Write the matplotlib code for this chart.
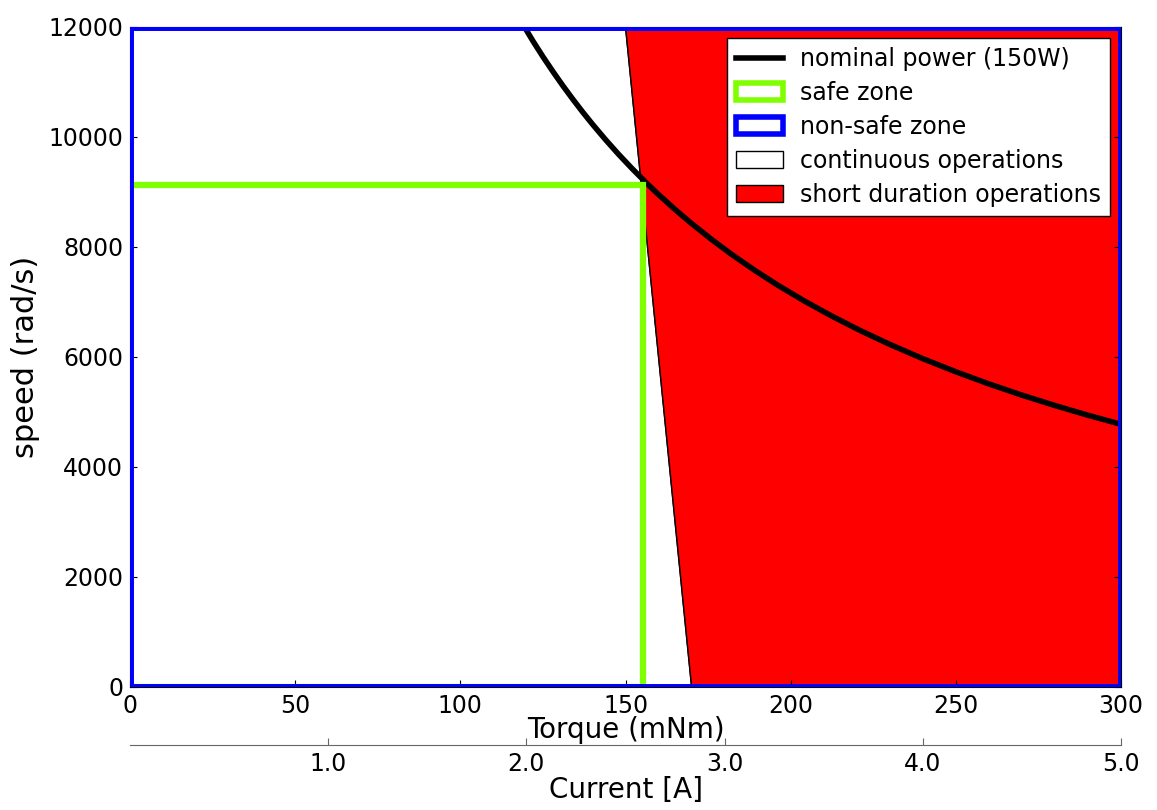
import numpy as np
import matplotlib
matplotlib.use("Agg")
import matplotlib.pyplot as plt
from matplotlib.patches import Polygon, Rectangle
from matplotlib.lines import Line2D

# nominal power curve (150W)
torque_curve = [119.4, 122, 125, 128, 131, 134, 137, 140, 144, 148, 152, 156, 160, 165, 170,
                176, 182, 189, 196, 204, 212, 221, 230, 240, 250, 260, 270, 280, 290, 300]
speed_curve = [12000, 11741, 11459, 11191, 10934, 10690, 10455, 10231, 9947, 9678, 9424, 9182,
               8952, 8681, 8426, 8139, 7870, 7579, 7308, 7022, 6757, 6481, 6228, 5968, 5730,
               5509, 5305, 5116, 4939, 4775]

# limits of the operating zones
torque_max, speed_max = 300, 12000
limit_torque_top, limit_torque_bottom = 150, 170   # continuous / short duration boundary
safe_torque, safe_speed = 155.3, 9130

# current axis
current_max = 5.0
current_ticks = [1.0, 2.0, 3.0, 4.0, 5.0]

plt.rcParams['font.family'] = 'DejaVu Sans'
fig = plt.figure(figsize=(11.57, 8.1), dpi=100)
ax = fig.add_axes([0.1124, 0.152, 0.8565, 0.8147])

# continuous operations (white) and short duration (red)
cont = Polygon([(0, 0), (limit_torque_bottom, 0), (limit_torque_top, speed_max), (0, speed_max)],
               closed=True, facecolor='white', edgecolor='black', lw=1, zorder=1)
short = Polygon([(limit_torque_top, speed_max), (limit_torque_bottom, 0), (torque_max, 0), (torque_max, speed_max)],
                closed=True, facecolor='red', edgecolor='black', lw=1, zorder=1)
ax.add_patch(cont)
ax.add_patch(short)

ax.plot(torque_curve, speed_curve, color='black', lw=4, zorder=3, solid_joinstyle='round')

safe = Rectangle((0, 0), safe_torque, safe_speed, facecolor='none', edgecolor='#7fff00', lw=4.5, zorder=4)
nonsafe = Rectangle((0, 0), torque_max, speed_max, facecolor='none', edgecolor='blue', lw=5, zorder=5)
ax.add_patch(safe)
ax.add_patch(nonsafe)

ax.set_xlim(0, torque_max)
ax.set_ylim(0, speed_max)
ax.set_xticks([0, 50, 100, 150, 200, 250, 300])
ax.set_yticks([0, 2000, 4000, 6000, 8000, 10000, 12000])
ax.tick_params(direction='in', top=True, right=True, labelsize=17, length=5, pad=5)
ax.set_xlabel('Torque (mNm)', fontsize=20, labelpad=-1)
ax.set_ylabel('speed (rad/s)', fontsize=22, labelpad=6)

handles = [
    Line2D([0], [0], color='black', lw=4),
    Rectangle((0, 0), 1, 1, facecolor='white', edgecolor='#7fff00', lw=4),
    Rectangle((0, 0), 1, 1, facecolor='white', edgecolor='blue', lw=4),
    Rectangle((0, 0), 1, 1, facecolor='white', edgecolor='black', lw=1),
    Rectangle((0, 0), 1, 1, facecolor='red', edgecolor='black', lw=1),
]
labels = ['nominal power (150W)', 'safe zone', 'non-safe zone',
          'continuous operations', 'short duration operations']
leg = ax.legend(handles, labels, loc='upper right', fontsize=17, fancybox=False,
                framealpha=1, edgecolor='black', borderaxespad=0.45, handlelength=2.0,
                handletextpad=0.7, labelspacing=0.42, borderpad=0.4)
leg.get_frame().set_linewidth(1)
leg.set_zorder(10)

# current axis below
ax2 = ax.twiny()
ax2.set_xlim(0, current_max)
ax2.set_xticks(current_ticks)
ax2.set_xticklabels(['%.1f' % c for c in current_ticks])
ax2.xaxis.set_ticks_position('bottom')
ax2.xaxis.set_label_position('bottom')
ax2.spines['bottom'].set_position(('outward', 42))
for s in ['top', 'left', 'right']:
    ax2.spines[s].set_visible(False)
ax2.spines['bottom'].set_color('0.4')
ax2.tick_params(direction='in', labelsize=17, length=5, pad=5, color='0.4')
ax2.set_xlabel('Current [A]', fontsize=20, labelpad=0)

fig.savefig('out.png', dpi=100)
